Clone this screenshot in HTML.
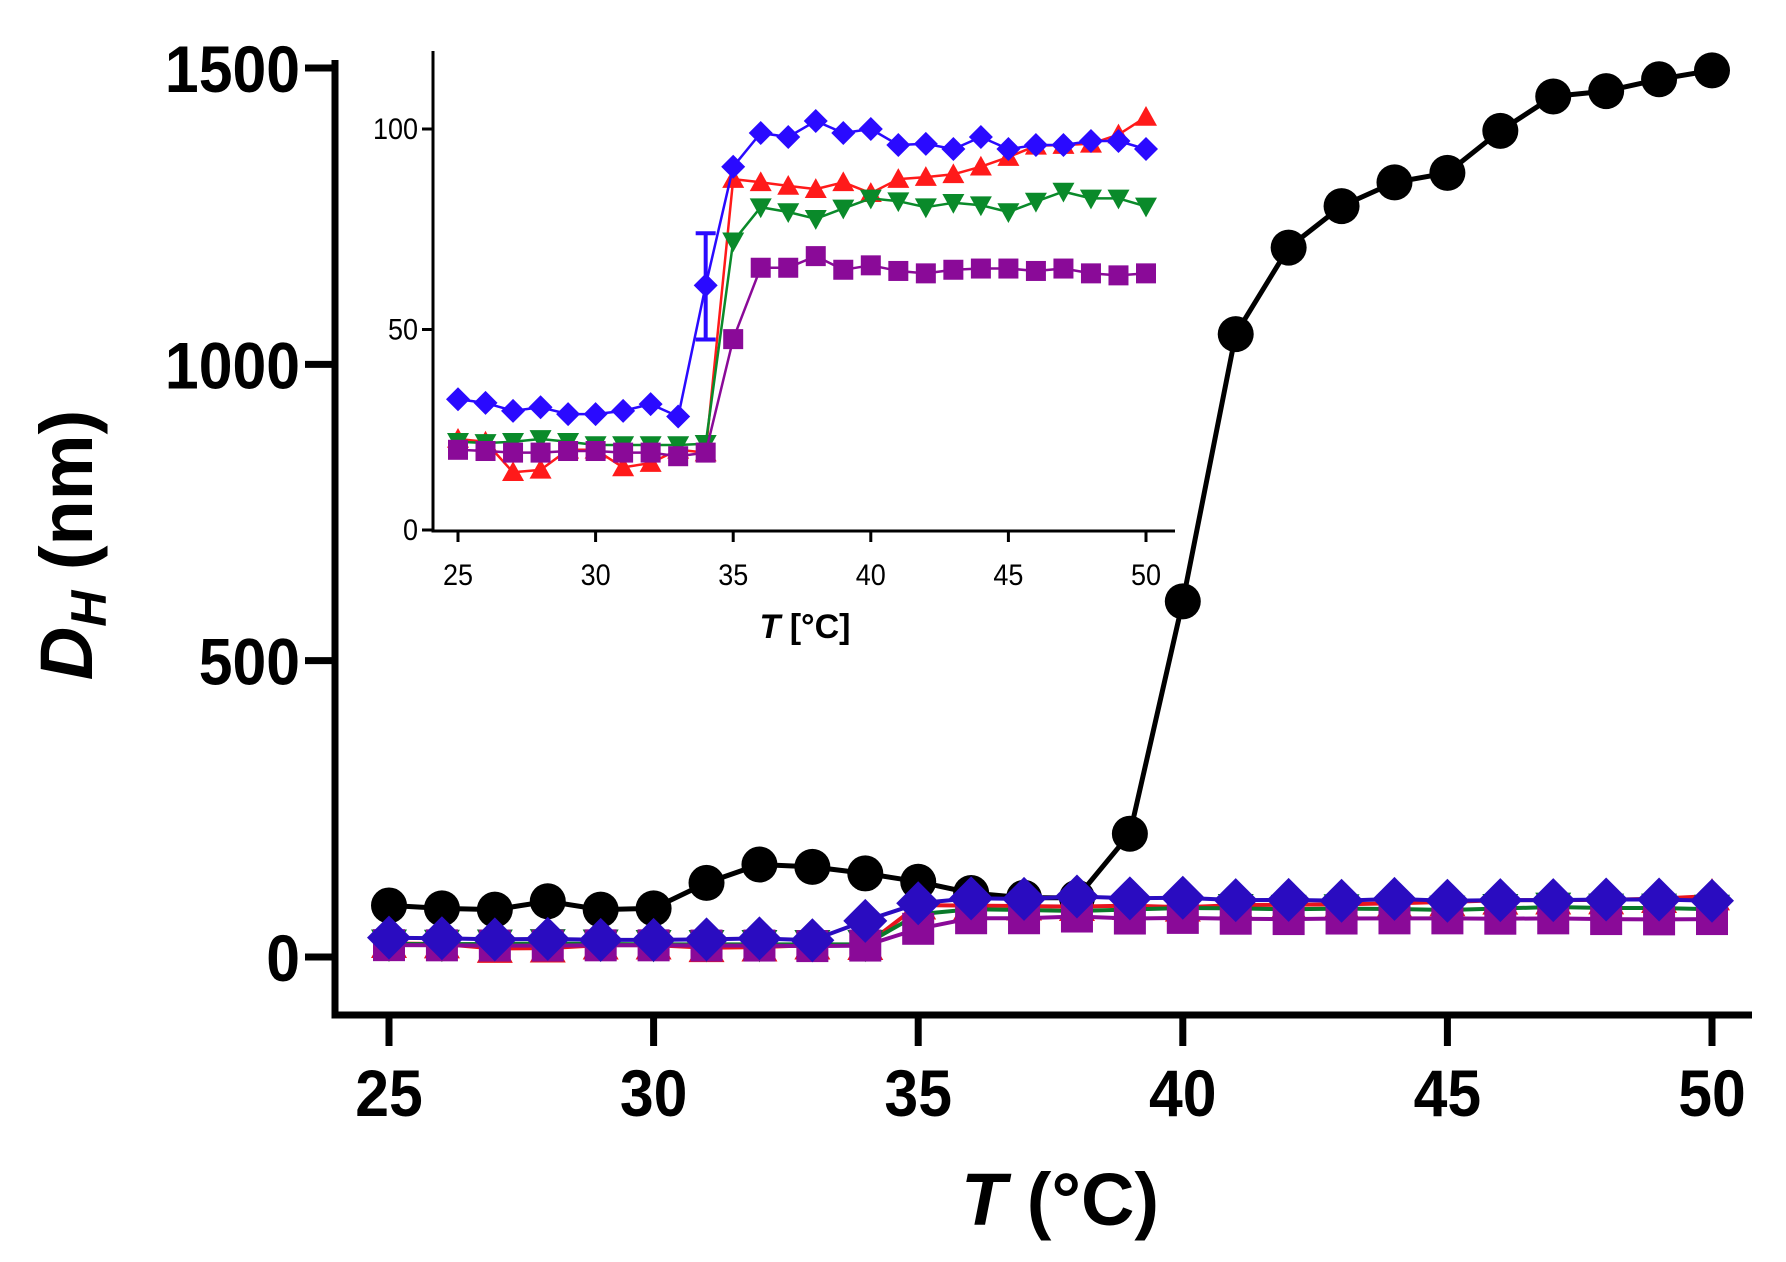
<!DOCTYPE html>
<html><head><meta charset="utf-8">
<style>
html,body{margin:0;padding:0;background:#fff;}
svg{display:block;font-family:"Liberation Sans",Arial,sans-serif;}
</style></head>
<body>
<svg id="chart" width="1786" height="1262" viewBox="0 0 1786 1262" xmlns="http://www.w3.org/2000/svg">
<rect width="1786" height="1262" fill="#fff"/>
<g id="main"></g>
<g id="inset"></g>
</svg>
<script>
const temps = [25,26,27,28,29,30,31,32,33,34,35,36,37,38,39,40,41,42,43,44,45,46,47,48,49,50];
const blackVals = [87,82,80,94,80,82,125,156,152,141,127,108,100,100,208,600,1051,1197,1267,1307,1323,1394,1452,1461,1481,1496];
const blueVals = [32.6,31.7,29.7,30.6,28.9,28.9,29.7,31.4,28.3,61,90.6,99,98,102,99,100,96,96.3,95,98,95,96,96,97,97,95];
const redVals = [22.7,22,14.4,15,20,20,15.6,16.7,20,19.3,87.5,86.7,85.8,85,86.7,84,87.5,88,88.7,90.6,93,95.8,96,96.3,98.6,103];
const greenVals = [22,21.7,22,22.7,22,21.2,21.2,21.2,21.2,21.5,72,80.5,79.3,77.6,80.2,82.7,82,80.5,81.6,81,79.3,81.9,84.4,82.7,82.7,80.7];
const purpleVals = [20,19.7,19.3,19.3,19.7,19.7,19.3,19.3,18.4,19.3,47.6,65.4,65.4,68.3,64.9,66,64.6,64,64.9,65.2,65.2,64.6,65.2,64,63.5,64];
const blueErrLow = [34, 47.5];
const blueErrHigh = [34, 74];
const mainXTicks = [25,30,35,40,45,50];
const mainYTicks = [0,500,1000,1500];
const insetXTicks = [25,30,35,40,45,50];
const insetYTicks = [0,50,100];

const NS='http://www.w3.org/2000/svg';
function mk(parent,tag,attrs){const e=document.createElementNS(NS,tag);for(const k in attrs)e.setAttribute(k,attrs[k]);parent.appendChild(e);return e;}

const mx = v => 389 + (v-25)*(1712-389)/25;
const my = v => 957 - v*(957-68)/1500;
const ix = v => 458 + (v-25)*(1146-458)/25;
const iy = v => 530 - v*(530-129)/100;

const main=document.getElementById('main');
const inset=document.getElementById('inset');

let ax=mk(main,'path',{d:'M335 60 L335 1015 L1752 1015',fill:'none',stroke:'#000','stroke-width':7});


mainXTicks.forEach(t=>{
  const l=mk(main,'line',{x1:mx(t),x2:mx(t),y1:1015,y2:1046,stroke:'#000','stroke-width':7});
  
  
  const tx=mk(main,'text',{x:0,y:0,'text-anchor':'middle','font-size':66,'font-weight':'bold',transform:`translate(${mx(t)},1116) scale(0.92,1)`});
  tx.textContent=t;
  
  
});
mainYTicks.forEach(t=>{
  const l=mk(main,'line',{x1:305,x2:335,y1:my(t),y2:my(t),stroke:'#000','stroke-width':7});
  
  
  const tx=mk(main,'text',{x:0,y:0,'text-anchor':'end','font-size':66,'font-weight':'bold',transform:`translate(300,${my(t)+24}) scale(0.92,1)`});
  tx.textContent=t;
  
  
});
let xt=mk(main,'text',{x:1060,y:1225,'text-anchor':'middle','font-size':74,'font-weight':'bold'});
xt.innerHTML='<tspan font-style="italic">T</tspan> (°C)';


let yt=mk(main,'text',{x:0,y:0,'text-anchor':'middle','font-size':74,'font-weight':'bold',transform:'translate(92,545) rotate(-90)'});
yt.innerHTML='<tspan font-style="italic">D</tspan><tspan font-style="italic" font-size="50" dy="14">H</tspan><tspan dy="-14"> (nm)</tspan>';



function marker(g,shape,x,y,s,color){
  if(shape==='circle') return mk(g,'circle',{cx:x,cy:y,r:s,fill:color});
  if(shape==='diamond') return mk(g,'path',{d:`M${x} ${y-s}L${x+s} ${y}L${x} ${y+s}L${x-s} ${y}Z`,fill:color});
  if(shape==='square') return mk(g,'rect',{x:x-s,y:y-s,width:2*s,height:2*s,fill:color});
  if(shape==='up') return mk(g,'path',{d:`M${x} ${y-s}L${x+s} ${y+s*0.8}L${x-s} ${y+s*0.8}Z`,fill:color});
  if(shape==='down') return mk(g,'path',{d:`M${x} ${y+s}L${x+s} ${y-s*0.8}L${x-s} ${y-s*0.8}Z`,fill:color});
}
function series(g,name,vals,fx,fy,shape,size,color,lw){
  const sg=mk(g,'g',{});
  
  
  const d=vals.map((v,i)=>(i?'L':'M')+fx(temps[i]).toFixed(1)+' '+fy(v).toFixed(1)).join('');
  mk(sg,'path',{d:d,fill:'none',stroke:color,'stroke-width':lw,'stroke-linejoin':'round'});
  vals.forEach((v,i)=>{
    const m=marker(sg,shape,fx(temps[i]),fy(v),size,color);
    
    
  });
}
series(main,'black-series',blackVals,mx,my,'circle',18,'#000',5);
series(main,'red-series',redVals,mx,my,'up',18,'#e8141e',4);
series(main,'green-series',greenVals,mx,my,'down',18,'#0a7a2a',4);
series(main,'purple-series',purpleVals,mx,my,'square',16,'#8a0a98',4);
series(main,'blue-series',blueVals,mx,my,'diamond',22,'#2a0cc0',4);

let iax=mk(inset,'path',{d:'M433 51 L433 531 L1175 531',fill:'none',stroke:'#000','stroke-width':3});


insetXTicks.forEach(t=>{
  const l=mk(inset,'line',{x1:ix(t),x2:ix(t),y1:531,y2:542,stroke:'#000','stroke-width':3});
  
  
  const tx=mk(inset,'text',{x:0,y:0,'text-anchor':'middle','font-size':30,transform:`translate(${ix(t)},585) scale(0.9,1)`});
  tx.textContent=t;
  
  
});
insetYTicks.forEach(t=>{
  const l=mk(inset,'line',{x1:422,x2:433,y1:iy(t),y2:iy(t),stroke:'#000','stroke-width':3});
  
  
  const tx=mk(inset,'text',{x:0,y:0,'text-anchor':'end','font-size':30,transform:`translate(418,${iy(t)+10}) scale(0.9,1)`});
  tx.textContent=t;
  
  
});
let ixt=mk(inset,'text',{x:805,y:638,'text-anchor':'middle','font-size':34,'font-weight':'bold'});
ixt.innerHTML='<tspan font-style="italic">T</tspan> [°C]';



series(inset,'inset-red-series',redVals,ix,iy,'up',11,'#ff1a1a',2.5);
series(inset,'inset-green-series',greenVals,ix,iy,'down',11,'#0a8a2a',2.5);
series(inset,'inset-purple-series',purpleVals,ix,iy,'square',10,'#8a0a98',2.5);
series(inset,'inset-blue-series',blueVals,ix,iy,'diamond',12,'#2a0aff',2.5);
const eb=mk(inset,'path',{d:`M${ix(blueErrLow[0])} ${iy(blueErrLow[1])}L${ix(blueErrHigh[0])} ${iy(blueErrHigh[1])}M${ix(34)-10} ${iy(blueErrLow[1])}h20M${ix(34)-10} ${iy(blueErrHigh[1])}h20`,stroke:'#2a0aff','stroke-width':4,fill:'none'});


</script>
</body></html>
